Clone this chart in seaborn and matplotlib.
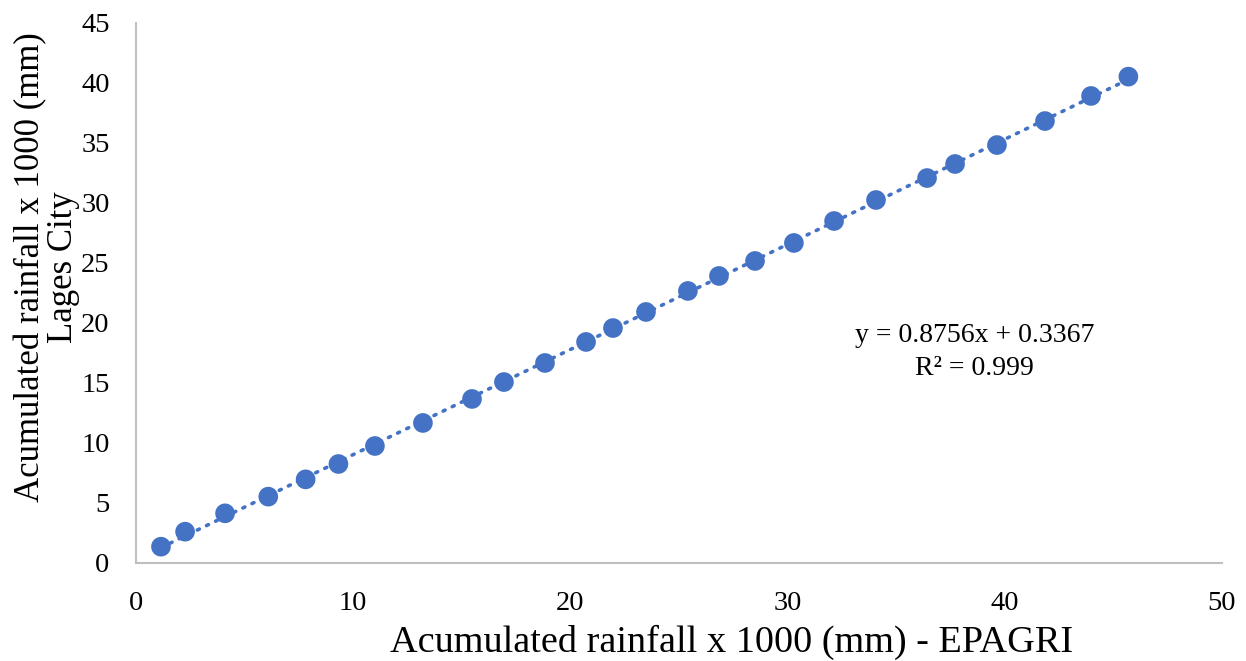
import numpy as np
import pandas as pd
import matplotlib
matplotlib.use("Agg")
import matplotlib.pyplot as plt
import seaborn as sns

# Data
epagri = [1.15, 2.26, 4.10, 6.09, 7.81, 9.32, 11.00, 13.21, 15.47, 16.94,
          18.83, 20.72, 21.96, 23.48, 25.41, 26.84, 28.50, 30.29, 32.14, 34.07,
          36.42, 37.71, 39.64, 41.85, 43.97, 45.69]
lages = [1.36, 2.61, 4.14, 5.53, 6.97, 8.25, 9.75, 11.67, 13.67, 15.08,
         16.67, 18.42, 19.58, 20.92, 22.67, 23.92, 25.17, 26.67, 28.50, 30.25,
         32.08, 33.25, 34.83, 36.83, 38.92, 40.53]
x_ticks = [0, 10, 20, 30, 40, 50]
y_ticks = [0, 5, 10, 15, 20, 25, 30, 35, 40, 45]
equation_text = "y = 0.8756x + 0.3367\nR\u00b2 = 0.999"
x_label = "Acumulated rainfall x 1000 (mm) - EPAGRI"
y_label = "Acumulated rainfall x 1000 (mm)\nLages City"

df = pd.DataFrame({"epagri": epagri, "lages": lages})

sns.set_theme(style="white")
plt.rcParams['font.family'] = ['Liberation Serif', 'DejaVu Serif']

blue = "#4472C4"
fig = plt.figure(figsize=(12.46, 6.61), dpi=100)
ax = fig.add_axes([136/1246, (661-563)/661, (1222-136)/1246, (563-23)/661])

sns.regplot(data=df, x="epagri", y="lages", ax=ax, scatter=False, ci=None,
            truncate=True,
            line_kws=dict(color=blue, lw=2.6, linestyle=(0, (0.6, 2.2)),
                          dash_capstyle="round", zorder=2))
sns.scatterplot(data=df, x="epagri", y="lages", ax=ax, color=blue, s=200,
                edgecolor="none", zorder=3)

ax.set_xlim(0, 50)
ax.set_ylim(0, 45)
ax.set_xticks(x_ticks)
ax.set_yticks(y_ticks)
ax.tick_params(axis="x", length=0, pad=20.5, labelsize=20.5)
ax.tick_params(axis="y", length=0, pad=19, labelsize=20.5)
for lab in ax.get_xticklabels() + ax.get_yticklabels():
    lab.set_color("black")

for s in ["top", "right"]:
    ax.spines[s].set_visible(False)
for s in ["left", "bottom"]:
    ax.spines[s].set_color("#BFBFBF")
    ax.spines[s].set_linewidth(1.5)

ax.set_xlabel(x_label, fontsize=27.5, color="black")
ax.set_ylabel(y_label, fontsize=25, color="black", linespacing=0.95)
ax.xaxis.set_label_coords(0.548, -0.114)
ax.yaxis.set_label_coords(-0.052, 0.548)

ax.text(38.6, 17.6, equation_text, ha="center", va="center", fontsize=20,
        color="black", linespacing=1.39)

fig.savefig("out.png", dpi=100, facecolor="white")
